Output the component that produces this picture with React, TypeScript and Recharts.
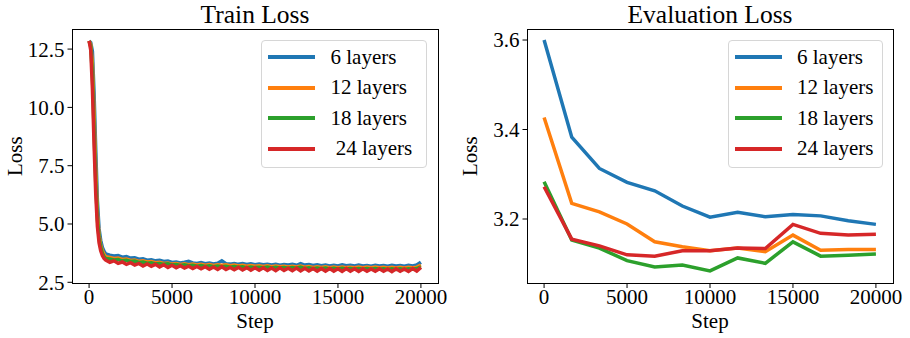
import { LineChart, Line, XAxis, YAxis, Legend } from "recharts";

// ---- data ----
const seriesNames = ["6 layers", "12 layers", "18 layers", "24 layers"];
const trainLegendNames = ["6 layers", "12 layers", "18 layers", " 24 layers"];
const colors = ["#1f77b4", "#ff7f0e", "#2ca02c", "#d62728"];

const stepTicks = [0, 5000, 10000, 15000, 20000];
const trainLossTicks = [2.5, 5.0, 7.5, 10.0, 12.5];
const evalLossTicks = [3.2, 3.4, 3.6];

const trainSteps = [
   0, 100, 200, 300, 400, 500, 600, 700, 800, 900,
   1000, 1250, 1500, 1750, 2000, 2250, 2500, 2750, 3000, 3250, 3500, 3750,
   4000, 4250, 4500, 4750, 5000, 5250, 5500, 5750, 6000, 6250, 6500, 6750,
   7000, 7250, 7500, 7750, 8000, 8250, 8500, 8750, 9000, 9250, 9500, 9750,
   10000, 10250, 10500, 10750, 11000, 11250, 11500, 11750, 12000, 12250, 12500, 12750,
   13000, 13250, 13500, 13750, 14000, 14250, 14500, 14750, 15000, 15250, 15500, 15750,
   16000, 16250, 16500, 16750, 17000, 17250, 17500, 17750, 18000, 18250, 18500, 18750,
   19000, 19250, 19500, 19750, 20000,
];

const train6 = [
   12.85, 12.78, 12.4, 10.6, 8.2, 6.0, 4.8, 4.3, 4.0, 3.83,
   3.72, 3.66, 3.63, 3.65, 3.58, 3.60, 3.54, 3.55, 3.49, 3.51, 3.45, 3.47,
   3.42, 3.44, 3.39, 3.41, 3.35, 3.37, 3.33, 3.36, 3.40, 3.33, 3.31, 3.35,
   3.30, 3.33, 3.29, 3.32, 3.42, 3.30, 3.28, 3.31, 3.27, 3.30, 3.26, 3.29,
   3.25, 3.28, 3.25, 3.27, 3.24, 3.27, 3.23, 3.26, 3.24, 3.27, 3.23, 3.30,
   3.24, 3.26, 3.22, 3.25, 3.21, 3.24, 3.20, 3.23, 3.20, 3.25, 3.21, 3.23,
   3.20, 3.24, 3.20, 3.22, 3.19, 3.23, 3.20, 3.22, 3.19, 3.23, 3.20, 3.22,
   3.19, 3.23, 3.20, 3.24, 3.36,
];

const train12 = [
   12.85, 12.7, 11.9, 9.8, 7.4, 5.5, 4.55, 4.1, 3.85, 3.7,
   3.60, 3.57, 3.52, 3.54, 3.48, 3.50, 3.44, 3.46, 3.40, 3.42, 3.37, 3.39,
   3.34, 3.36, 3.31, 3.33, 3.28, 3.30, 3.26, 3.29, 3.25, 3.28, 3.24, 3.27,
   3.23, 3.26, 3.22, 3.25, 3.23, 3.25, 3.21, 3.24, 3.20, 3.23, 3.19, 3.22,
   3.19, 3.21, 3.18, 3.21, 3.17, 3.20, 3.17, 3.19, 3.16, 3.19, 3.16, 3.20,
   3.15, 3.18, 3.14, 3.17, 3.14, 3.17, 3.13, 3.16, 3.13, 3.16, 3.13, 3.15,
   3.12, 3.15, 3.12, 3.15, 3.12, 3.15, 3.12, 3.14, 3.11, 3.14, 3.11, 3.14,
   3.11, 3.14, 3.12, 3.15, 3.24,
];

const train18 = [
   12.85, 12.6, 11.4, 9.0, 6.8, 5.2, 4.4, 4.0, 3.75, 3.6,
   3.52, 3.50, 3.46, 3.48, 3.42, 3.44, 3.39, 3.41, 3.35, 3.37, 3.32, 3.34,
   3.29, 3.31, 3.27, 3.29, 3.24, 3.26, 3.22, 3.25, 3.21, 3.23, 3.19, 3.22,
   3.18, 3.21, 3.17, 3.20, 3.17, 3.19, 3.15, 3.18, 3.15, 3.17, 3.13, 3.16,
   3.13, 3.15, 3.12, 3.15, 3.11, 3.14, 3.11, 3.13, 3.10, 3.13, 3.10, 3.15,
   3.09, 3.12, 3.08, 3.11, 3.08, 3.11, 3.07, 3.10, 3.07, 3.10, 3.07, 3.09,
   3.06, 3.09, 3.06, 3.09, 3.06, 3.09, 3.06, 3.08, 3.05, 3.08, 3.05, 3.08,
   3.05, 3.08, 3.06, 3.09, 3.16,
];

const train24 = [
   12.85, 12.45, 10.8, 8.4, 6.3, 4.9, 4.2, 3.85, 3.65, 3.52,
   3.45, 3.36, 3.42, 3.31, 3.37, 3.27, 3.34, 3.24, 3.31, 3.20, 3.29, 3.19,
   3.27, 3.16, 3.25, 3.14, 3.23, 3.12, 3.21, 3.11, 3.19, 3.09, 3.18, 3.08,
   3.17, 3.06, 3.16, 3.05, 3.17, 3.05, 3.14, 3.04, 3.14, 3.03, 3.13, 3.02,
   3.12, 3.02, 3.12, 3.01, 3.11, 3.00, 3.12, 3.01, 3.10, 3.00, 3.11, 2.99,
   3.10, 2.99, 3.09, 2.98, 3.09, 2.98, 3.09, 2.98, 3.08, 2.97, 3.09, 2.98,
   3.08, 2.97, 3.08, 2.97, 3.07, 2.97, 3.08, 2.97, 3.07, 2.96, 3.08, 2.97,
   3.07, 2.97, 3.09, 2.98, 3.14,
];

const evalSteps = [0, 1667, 3333, 5000, 6667, 8333, 10000, 11667, 13333, 15000, 16667, 18333, 20000];
const eval6 = [3.600, 3.383, 3.313, 3.282, 3.263, 3.229, 3.204, 3.215, 3.205, 3.210, 3.207, 3.196, 3.188];
const eval12 = [3.427, 3.235, 3.216, 3.189, 3.149, 3.138, 3.129, 3.135, 3.127, 3.164, 3.130, 3.132, 3.132];
const eval18 = [3.283, 3.153, 3.135, 3.107, 3.093, 3.097, 3.084, 3.113, 3.101, 3.149, 3.117, 3.119, 3.122];
const eval24 = [3.272, 3.155, 3.140, 3.120, 3.117, 3.129, 3.129, 3.135, 3.134, 3.188, 3.168, 3.164, 3.166];

const trainSeries = [train6, train12, train18, train24];
const evalSeries = [eval6, eval12, eval18, eval24];

const trainData = trainSteps.map((step, i) => {
   const row: Record<string, number> = { step };
   trainSeries.forEach((s, k) => (row[`s${k}`] = s[i]));
   return row;
});

const evalData = evalSteps.map((step, i) => {
   const row: Record<string, number> = { step };
   evalSeries.forEach((s, k) => (row[`s${k}`] = s[i]));
   return row;
});

// ---- layout ----
const FONT = '"Liberation Serif", "Times New Roman", serif';
const PANEL_W = 455;
const PANEL_H = 338;
const Y_AXIS_W = 60;
const PLOT_LEFT = 72.5;
const PLOT_RIGHT = 437.5;
const PLOT_TOP = 29.5;
const PLOT_BOTTOM = 283;
const X_AXIS_H = 50;

const tickStyle = { fill: "#000", fontSize: 21, fontFamily: FONT };

interface LegendEntry {
   value?: string;
   color?: string;
}

function makeLegend(labels: string[], boxLeft: number, boxWidth: number, textGap: number) {
   return function LegendBox({ payload }: { payload?: ReadonlyArray<LegendEntry> }) {
      const items = payload ?? [];
      return (
         <div
            style={{
               position: "absolute",
               left: boxLeft,
               top: 40,
               width: boxWidth,
               height: 128,
               boxSizing: "border-box",
               border: "1px solid #d6d6d6",
               borderRadius: 4,
               background: "rgba(255,255,255,0.8)",
               paddingTop: 1,
               paddingLeft: 6,
               fontFamily: FONT,
               fontSize: 21,
               color: "#000",
               textAlign: "left",
            }}
         >
            {seriesNames.map((name, i) => {
               // legend payload comes back sorted by name, so look each one up
               const entry = items.find((it) => it.value === name);
               return (
                  <div key={name} style={{ height: 30.5, display: "flex", alignItems: "center" }}>
                     <div style={{ width: 47, height: 4, background: entry?.color ?? colors[i], flex: "none" }} />
                     <span style={{ marginLeft: textGap, whiteSpace: "pre", lineHeight: "21px" }}>
                        {labels[i]}
                     </span>
                  </div>
               );
            })}
         </div>
      );
   };
}

interface PanelProps {
   title: string;
   data: Record<string, number>[];
   yDomain: [number, number];
   yTicks: number[];
   legend: (p: { payload?: ReadonlyArray<LegendEntry> }) => JSX.Element;
   left: number;
}

function Panel({ title, data, yDomain, yTicks, legend, left }: PanelProps) {
   const midY = (PLOT_TOP + PLOT_BOTTOM) / 2;
   return (
      <div style={{ position: "absolute", left, top: 0, width: PANEL_W, height: PANEL_H }}>
         <div
            style={{
               position: "absolute",
               left: PLOT_LEFT,
               width: PLOT_RIGHT - PLOT_LEFT,
               top: 2,
               textAlign: "center",
               fontSize: 25.5,
               lineHeight: "26px",
               fontFamily: FONT,
               color: "#000",
               whiteSpace: "nowrap",
            }}
         >
            {title}
         </div>
         <LineChart
            width={PANEL_W}
            height={PANEL_H}
            data={data}
            margin={{
               top: PLOT_TOP,
               right: PANEL_W - PLOT_RIGHT,
               bottom: PANEL_H - PLOT_BOTTOM - X_AXIS_H,
               left: PLOT_LEFT - Y_AXIS_W,
            }}
         >
            <XAxis
               dataKey="step"
               type="number"
               domain={[-1000, 21000]}
               ticks={stepTicks}
               allowDataOverflow
               axisLine={false}
               tickLine={{ stroke: "#000" }}
               tickSize={5}
               tickMargin={1}
               tick={tickStyle}
               height={X_AXIS_H}
               label={{
                  content: () => (
                     <text
                        x={(PLOT_LEFT + PLOT_RIGHT) / 2}
                        y={327.5}
                        textAnchor="middle"
                        fontSize={21}
                        fontFamily={FONT}
                        fill="#000"
                     >
                        Step
                     </text>
                  ),
               }}
            />
            <YAxis
               type="number"
               domain={yDomain}
               ticks={yTicks}
               allowDataOverflow
               axisLine={false}
               tickLine={{ stroke: "#000" }}
               tickSize={5}
               tickMargin={3}
               tick={tickStyle}
               width={Y_AXIS_W}
               tickFormatter={(v: number) => v.toFixed(1)}
               label={{
                  content: () => (
                     <text
                        x={21.7}
                        y={midY}
                        textAnchor="middle"
                        transform={`rotate(-90, 21.7, ${midY})`}
                        fontSize={21}
                        fontFamily={FONT}
                        fill="#000"
                     >
                        Loss
                     </text>
                  ),
               }}
            />
            {seriesNames.map((name, k) => (
               <Line
                  key={name}
                  type="linear"
                  dataKey={`s${k}`}
                  name={name}
                  stroke={colors[k]}
                  strokeWidth={3.5}
                  dot={false}
                  activeDot={false}
                  isAnimationActive={false}
               />
            ))}
            <Legend
               verticalAlign="middle"
               align="center"
               layout="horizontal"
               wrapperStyle={{ left: 0, top: 0, width: 0, height: 0, margin: 0 }}
               content={legend}
            />
         </LineChart>
         <div
            style={{
               position: "absolute",
               left: 72,
               top: 29,
               width: 367,
               height: 255,
               boxSizing: "border-box",
               border: "1px solid #000",
               pointerEvents: "none",
            }}
         />
      </div>
   );
}

const TrainLegend = makeLegend(trainLegendNames, 260.5, 166.5, 16);
const EvalLegend = makeLegend(seriesNames, 272.5, 155, 15.5);

export default function App() {
   return (
      <div
         style={{
            position: "absolute",
            left: 0,
            top: 0,
            width: 910,
            height: 338,
            background: "#fff",
            fontFamily: FONT,
         }}
      >
         <Panel
            title="Train Loss"
            data={trainData}
            yDomain={[2.47, 13.34]}
            yTicks={trainLossTicks}
            legend={TrainLegend}
            left={0}
         />
         <Panel
            title="Evaluation Loss"
            data={evalData}
            yDomain={[3.057, 3.6235]}
            yTicks={evalLossTicks}
            legend={EvalLegend}
            left={PANEL_W}
         />
      </div>
   );
}
